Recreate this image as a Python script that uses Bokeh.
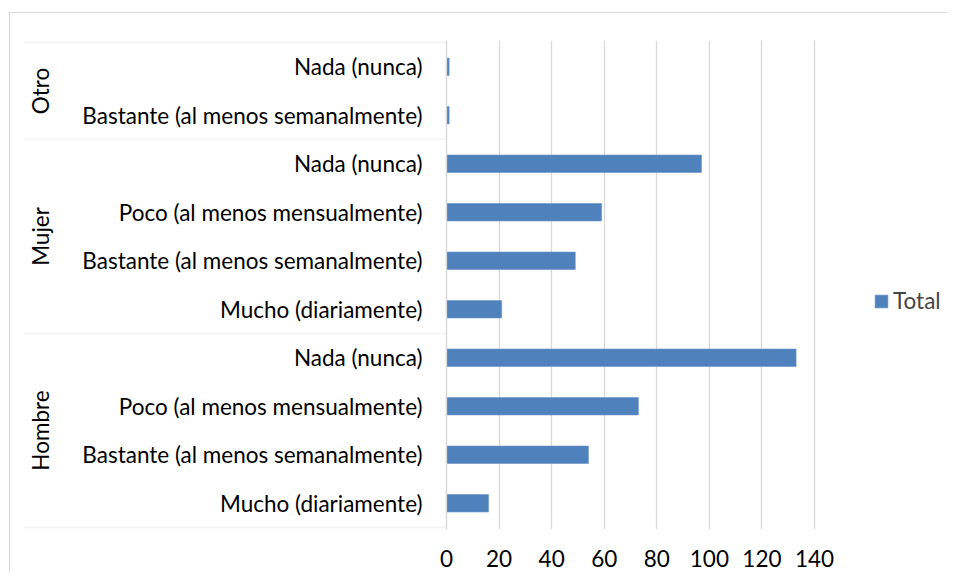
from bokeh.plotting import figure
from bokeh.models import (Range1d, FixedTicker, Label, PolyAnnotation, Span,
                          Legend, LegendItem, ColumnDataSource)
from bokeh.embed import file_html
from bokeh.resources import INLINE

# ---- data ----
groups = ["Hombre", "Mujer", "Otro"]
hombre_cats = ["Mucho (diariamente)", "Bastante (al menos semanalmente)",
               "Poco (al menos mensualmente)", "Nada (nunca)"]
hombre_vals = [16, 54, 73, 133]
mujer_cats = ["Mucho (diariamente)", "Bastante (al menos semanalmente)",
              "Poco (al menos mensualmente)", "Nada (nunca)"]
mujer_vals = [21, 49, 59, 97]
otro_cats = ["Bastante (al menos semanalmente)", "Nada (nunca)"]
otro_vals = [1, 1]
x_ticks = [0, 20, 40, 60, 80, 100, 120, 140]
series_name = "Total"

# ---- build rows (bottom to top) ----
group_cats = [hombre_cats, mujer_cats, otro_cats]
group_vals = [hombre_vals, mujer_vals, otro_vals]
ys, vals, labels = [], [], []
bounds = [0]
i = 0
for cats, vs in zip(group_cats, group_vals):
    for c, v in zip(cats, vs):
        ys.append(i + 0.5)
        vals.append(v)
        labels.append(c)
        i += 1
    bounds.append(i)
n_rows = i

FONT = "Lato"
FS = "22.5px"
GRID = "#D9D9D9"
BAR = "#4F81BD"

# ---- layout (canvas pixels) ----
W, H = 938, 560
PX0, PX1 = 436, 804          # canvas x of axis min / max
ROW_TOP, ROW_BOT = 29, 514   # canvas y of plot-area top / bottom
PAD = 2
XMIN, XMAX = x_ticks[0], x_ticks[-1]
ppx = (PX1 - PX0) / (XMAX - XMIN)
ppy = (ROW_BOT - ROW_TOP) / n_rows
x_start = XMIN - PX0 / ppx
x_end = XMIN + (W - PX0) / ppx
y_start = -PAD / ppy
y_end = n_rows + PAD / ppy

p = figure(width=W, height=H, output_backend="svg", toolbar_location=None,
           x_range=Range1d(x_start, x_end), y_range=Range1d(y_start, y_end),
           min_border_left=0, min_border_right=0,
           min_border_top=ROW_TOP - PAD, min_border_bottom=H - ROW_BOT - PAD)
p.styles = {"margin-left": "9px", "margin-top": "12px",
            "border-left": "1px solid #D9D9D9", "border-top": "1px solid #D9D9D9"}
p.outline_line_color = None
p.background_fill_color = "white"
p.border_fill_color = "white"

src = ColumnDataSource(dict(y=ys, v=vals, lab=labels))
r = p.hbar(y="y", right="v", left=0, height=0.36, source=src,
           fill_color=BAR, line_color="#6C95C8", line_width=0.6)

# axes
p.yaxis.visible = False
p.ygrid.visible = False
p.xgrid.ticker = FixedTicker(ticks=x_ticks)
p.xgrid.grid_line_color = GRID
p.xgrid.grid_line_width = 1.3
xa = p.xaxis[0]
xa.ticker = FixedTicker(ticks=x_ticks)
xa.bounds = (XMIN, XMAX)
xa.axis_line_color = None
xa.major_tick_line_color = None
xa.minor_tick_line_color = None
xa.major_label_text_font = FONT
xa.major_label_text_font_size = FS
xa.major_label_text_color = "black"
xa.major_label_standoff = 14

# vertical category-axis line
p.add_layout(Span(location=0, dimension="height", line_color=GRID, line_width=1.3))

# category labels
for y, lab in zip(ys, labels):
    p.add_layout(Label(x=PX0 - 24, x_units="screen", y=y, text=lab,
                       text_align="right", text_baseline="middle",
                       text_font=FONT, text_font_size=FS, text_color="black"))

# group labels and separators
for g, (b0, b1) in zip(groups, zip(bounds[:-1], bounds[1:])):
    p.add_layout(Label(x=30, x_units="screen", y=(b0 + b1) / 2, text=g,
                       angle=1.5708, text_align="center", text_baseline="middle",
                       text_font=FONT, text_font_size=FS, text_color="black"))
for b in bounds:
    p.add_layout(PolyAnnotation(xs=[13, PX0], ys=[b, b], xs_units="screen",
                                ys_units="data", line_color=GRID, line_width=1.3,
                                fill_alpha=0))

# legend
legend = Legend(items=[LegendItem(label=series_name, renderers=[r])],
                location=(863, 215), glyph_width=16, glyph_height=16,
                label_text_font=FONT, label_text_font_size=FS,
                label_standoff=4, padding=0, margin=0, spacing=0,
                border_line_color=None, background_fill_alpha=0)
p.add_layout(legend, "center")

open("out.html", "w").write(file_html(p, INLINE))
